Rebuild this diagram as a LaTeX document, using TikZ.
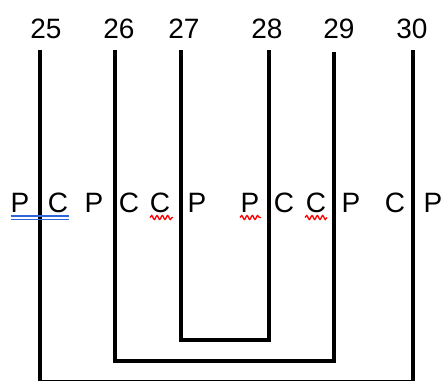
\documentclass[tikz,border=0pt]{standalone}
\usepackage{fontspec}
\setmainfont{Liberation Sans}
\usetikzlibrary{decorations.pathmorphing}
\definecolor{ulblue}{RGB}{50,100,220}
\begin{document}
\begin{tikzpicture}[x=0.75pt,y=-0.75pt,
  lbl/.style={anchor=base,inner sep=0pt,font=\fontsize{21pt}{24pt}\selectfont},
  bar/.style={line width=3.4pt,line join=miter,line cap=butt},
  squig/.style={red,line width=1pt,decorate,decoration={snake,amplitude=1.5pt,segment length=4pt}},
  dbl/.style={ulblue,line width=1.1pt}]
\useasboundingbox (0,0) rectangle (447,381);
\begin{scope}
\clip (0,0) rectangle (447,381);
% numbers
\node[lbl] (n25) at (46,39) {25};
\node[lbl] (n26) at (119,39) {26};
\node[lbl] (n27) at (184,39) {27};
\node[lbl] (n28) at (267,39) {28};
\node[lbl] (n29) at (339,39) {29};
\node[lbl] (n30) at (412,39) {30};
% line tops and bottoms
\coordinate (t25) at (40,50);
\coordinate (t26) at (115,50);
\coordinate (t27) at (181,50);
\coordinate (t28) at (269,50);
\coordinate (t29) at (334,52);
\coordinate (t30) at (413,50);
\coordinate (b27) at (181,340);
\coordinate (b28) at (269,340);
\coordinate (b26) at (115,361);
\coordinate (b29) at (334,361);
\coordinate (b25) at (40,382.6);
\coordinate (b30) at (413,382.6);
\draw[bar] (t27) -- (b27) -- (b28) -- (t28);
\draw[bar] (t26) -- (b26) -- (b29) -- (t29);
\draw[bar] (t25) -- (b25) -- (b30) -- (t30);
% letters
\node[lbl] (l1) at (20,213) {P};
\node[lbl] (l2) at (58,213) {C};
\node[lbl] (l3) at (94,213) {P};
\node[lbl] (l4) at (129,213) {C};
\node[lbl] (l5) at (160,213) {C};
\node[lbl] (l6) at (197,213) {P};
\node[lbl] (l7) at (250,213) {P};
\node[lbl] (l8) at (284,213) {C};
\node[lbl] (l9) at (316,213) {C};
\node[lbl] (l10) at (351,213) {P};
\node[lbl] (l11) at (395,213) {C};
\node[lbl] (l12) at (433,213) {P};
% double blue underline
\draw[dbl] (11,215.8) -- (69,215.8);
\draw[dbl] (11,219.6) -- (69,219.6);
% red wavy underlines
\draw[squig] (150,217.5) -- (173,217.5);
\draw[squig] (240,217.5) -- (261,217.5);
\draw[squig] (305,217.5) -- (327,217.5);
\end{scope}
\end{tikzpicture}
\end{document}
